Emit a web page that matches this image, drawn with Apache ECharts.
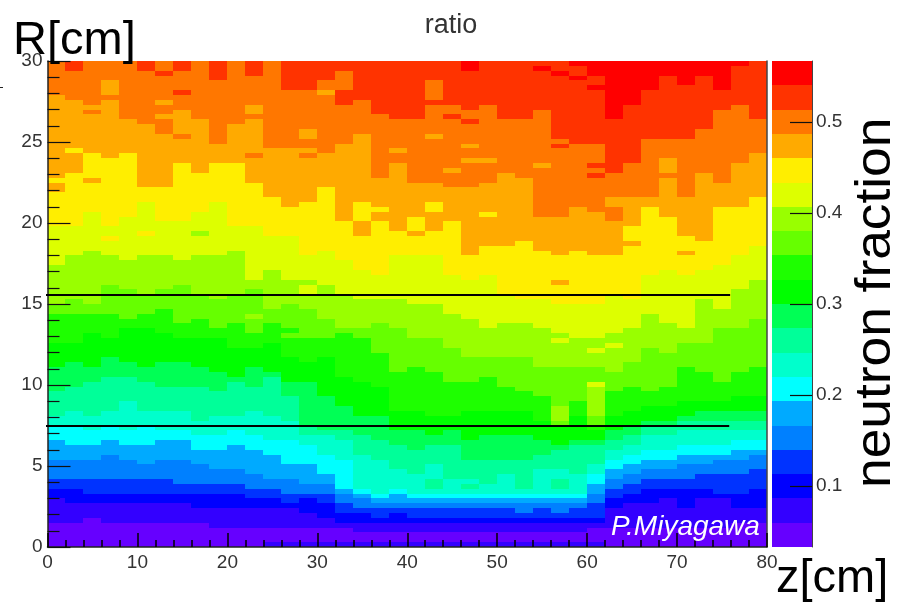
<!DOCTYPE html>
<html><head><meta charset="utf-8">
<style>html,body{margin:0;padding:0;background:#fff}#c{width:900px;height:607px}</style>
<script src="https://cdn.jsdelivr.net/npm/echarts@6/dist/echarts.min.js"></script>
</head><body><div id="c"></div>
<script>
// Colour bands, low to high
var bandColors = ['#6600ff','#3300ff','#0000ff','#0033ff','#0080ff','#00aaff','#00ffff','#00ffcc','#00ff99','#00ff55',
                  '#00ff00','#1eff00','#66ff00','#99ff00','#ddff00','#ffee00','#ffaa00','#ff7700','#ff3300','#ff0000'];
var cbMin = 0.0333, cbMax = 0.5667;
var cbTicks = [0.1,0.2,0.3,0.4,0.5];
var zBinWidth = 2, rBinWidth = 0.3, nCols = 40, nRows = 100;

// For each band k: the R-bin index, per z column, at which the fraction reaches that band
var b1  = [5,5,6,5,5,5,5,5,5,4,4,4,4,4, 4,4,4,3,3,3,3,3,3,3,3,3,3,3,3,3,4, 4,4,4,4,4,4,4,5,5];
var b2  = [10,9,9,9,9,9,9,9,8,8,8,8,8,8, 7,6,5,5,5,5,5,5,5,5,5,5,5,5,5,5,5, 8,9,9,10,8,10,10,8,8];
var b3  = [12,12,11,11,11,11,11,11,11,11,11,10,10,9, 10,9,7,7,6,7,6,6,6,6,6,6,6,6,6,6,6, 10,11,12,12,12,12,11,11,12];
var b4  = [14,14,14,14,14,14,14,13,13,13,13,12,12,11, 11,11,9,8,8,8,8,8,8,8,8,8,7,8,7,8,9, 12,13,14,14,14,15,15,15,16];
var b5  = [18,18,18,19,18,17,18,18,17,16,16,15,14,14, 13,13,11,10,9,9,9,9,9,9,9,9,9,9,9,9,11, 14,15,16,16,17,17,18,18,19];
var b6  = [22,21,21,22,21,21,22,22,20,20,21,20,19,17, 17,15,12,11,10,11,10,10,10,10,10,10,10,10,10,10,13, 16,17,18,18,19,19,19,20,20];
var b7  = [25,25,24,25,24,25,24,24,23,23,24,23,22,22, 21,19,18,12,11,12,11,11,11,11,11,11,11,11,11,11,15, 18,19,20,20,21,21,21,22,22];
var b8  = [27,28,27,28,30,28,28,28,26,27,27,28,27,26, 23,23,22,19,18,16,15,17,14,14,13,15,12,16,16,15,17, 20,21,23,23,24,24,24,24,24];
var b9  = [32,33,34,35,35,34,33,33,33,32,34,33,35,31, 25,24,24,23,22,21,20,21,21,18,18,18,18,19,20,21,21, 22,23,25,25,26,26,26,26,26];
var b10 = [37,38,37,39,38,37,38,38,37,36,35,37,36,34, 34,31,29,27,27,24,24,23,24,22,23,23,23,22,21,22,22, 24,25,26,26,27,28,28,28,28];
var b11 = [42,42,44,43,45,45,44,43,43,43,41,41,42,39, 38,39,35,34,33,28,28,27,27,28,28,28,28,26,25,27,24, 27,28,29,29,30,30,30,31,31];
var b12 = [48,48,48,48,47,48,49,46,47,45,46,44,46,45, 43,43,44,43,40,36,37,36,34,34,35,33,32,31,25,30,25, 32,33,32,33,37,36,34,36,37];
var b13 = [50,51,50,54,53,52,53,54,52,51,52,53,49,50, 49,47,45,45,46,45,43,43,41,39,39,39,39,37,37,37,37, 36,38,41,40,42,42,45,45,47];
var b14 = [58,60,61,60,59,60,60,59,60,60,60,55,57,55, 55,54,52,51,51,51,50,50,48,47,45,46,46,45,44,43,43, 44,45,48,46,45,51,49,53,55];
var b15 = [66,66,69,66,68,71,67,67,69,71,66,66,64,64, 60,61,59,57,56,60,60,60,56,55,56,52,51,51,50,50,50, 52,51,56,57,56,57,58,60,62];
var b16 = [76,77,81,80,81,74,74,79,77,79,79,75,72,70, 71,74,67,71,67,65,64,65,67,60,62,62,63,61,60,61,60, 60,66,70,68,64,65,70,70,72];
var b17 = [93,92,91,92,88,87,85,90,88,83,87,88,82,82, 80,81,83,85,76,79,75,75,74,74,75,77,76,68,68,70,69, 72,72,72,76,72,77,75,79,81];
var b18 = [100,98,100,100,100,98,100,98,100,96,100,97,100,94, 94,96,91,92,89,88,88,91,88,90,91,88,88,90,84,83,83, 77,79,84,84,84,86,90,91,88];
var b19 = [100,100,100,100,100,100,100,100,100,100,100,100,100,100, 100,100,100,100,100,100,100,100,100,98,100,100,100,100,100,100,97, 88,91,94,97,95,97,94,99,100];
var bandStarts = [b1,b2,b3,b4,b5,b6,b7,b8,b9,b10,b11,b12,b13,b14,b15,b16,b17,b18,b19];

// Isolated bins that differ from their neighbours: [column, firstRow, lastRow, band]
var specks = [
 [0,73,74,16],[2,75,75,16],[1,81,81,15],[2,89,89,17],[3,93,95,16],[6,91,91,16],[6,88,88,16],[6,97,97,18],[7,93,93,18],[7,84,84,17],
 [11,89,90,16],[11,80,80,17],[8,64,64,13],[5,64,64,15],[3,63,63,15],[10,60,60,13],[13,43,43,12],[11,47,47,13],
 [14,84,85,16],[14,81,81,16],[15,93,93,16],[16,94,97,17],[21,93,95,17],[21,92,92,17],[21,84,84,16],[22,89,90,17],[19,81,81,16],
 [23,87,87,18],[23,82,82,16],[23,79,79,16],[24,79,79,16],[22,77,77,16],[27,78,78,16],[28,82,82,18],[30,78,78,18],[30,76,76,18],
 [27,98,98,19],[28,97,97,19],[29,99,99,19],[29,96,96,19],[30,94,94,19],
 [18,69,69,15],[21,69,70,15],[24,68,68,15],[20,65,67,15],[17,64,66,16],[32,62,62,16],[34,77,79,16],[31,67,69,17],[34,67,67,15],
 [36,63,64,16],[28,54,54,16],[35,60,60,16],[14,52,53,14],[28,26,28,13],[30,27,33,13],[30,33,33,14],[28,42,42,14],[30,40,40,14],[31,41,41,14],
 [21,12,13,8],[23,12,12,8],[28,12,13,8],
 [12,0,0,1],[13,0,0,1],[14,0,0,1],[15,0,0,1],[16,0,0,1],[17,0,0,1],[18,0,0,1],[19,0,0,1],[20,0,0,1],[21,0,0,1],
 [22,0,0,1],[23,0,0,1],[24,0,0,1],[25,0,0,1],[26,0,0,1],[27,0,0,1],[28,0,0,1],[29,0,0,1],[30,0,0,1]
];

// Detector lines
var lineUpperR = 15.56, lineLowerR = 7.47;
var lineUpperZ = [-2.94, 75.9], lineLowerZ = [-3.05, 75.8];

// Build bin table: [z left edge, R low edge, band]
var cells = [];
for (var c = 0; c < nCols; c++) {
  for (var r = 0; r < nRows; r++) {
    var band = 0;
    for (var k = 0; k < bandStarts.length; k++) if (bandStarts[k][c] <= r) band = k + 1;
    for (var s = 0; s < specks.length; s++)
      if (specks[s][0] === c && r >= specks[s][1] && r <= specks[s][2]) band = specks[s][3];
    cells.push([c * zBinWidth, r * rBinWidth, band]);
  }
}
var bandData = bandColors.map(function (col, i) {
  var w = (cbMax - cbMin) / bandColors.length;
  return [0, cbMin + i * w, cbMin + (i + 1) * w, i];
});

var chart = echarts.init(document.getElementById('c'), null, {renderer: 'canvas', width: 900, height: 607});
var F = '"Liberation Sans", Arial, sans-serif';
chart.setOption({
  animation: false,
  backgroundColor: '#fff',
  title: {text: 'ratio', left: 446, top: 7, textAlign: 'center',
    textStyle: {fontFamily: F, fontSize: 27, fontWeight: 'normal', color: '#333'}},
  grid: [
    {left: 47.5, top: 61, width: 719.5, height: 486, containLabel: false},
    {left: 772, top: 61, width: 40, height: 486}
  ],
  xAxis: [
    {gridIndex: 0, type: 'value', min: 0, max: 80, interval: 10, z: 10,
     axisLine: {show: true, onZero: false, lineStyle: {color: '#222', width: 1.5}},
     axisTick: {show: true, inside: true, length: 14, lineStyle: {color: '#000', width: 1.5}},
     minorTick: {show: true, splitNumber: 5, length: 7, lineStyle: {color: '#000', width: 1.5}},
     axisLabel: {show: true, margin: 6, fontFamily: F, fontSize: 19, color: '#333', showMinLabel: true, showMaxLabel: true},
     splitLine: {show: false}},
    {gridIndex: 1, type: 'value', min: 0, max: 1, show: false}
  ],
  yAxis: [
    {gridIndex: 0, type: 'value', min: 0, max: 30, interval: 5, z: 10,
     axisLine: {show: true, onZero: false, lineStyle: {color: '#222', width: 1.5}},
     axisTick: {show: true, inside: true, length: 23, lineStyle: {color: '#111', width: 1.2}},
     minorTick: {show: true, splitNumber: 5, length: 12, lineStyle: {color: '#111', width: 1.2}},
     axisLabel: {show: true, margin: 5, fontFamily: F, fontSize: 19, color: '#333', padding: [6,0,0,0], showMinLabel: true, showMaxLabel: true},
     splitLine: {show: false}},
    {gridIndex: 0, type: 'value', min: 0, max: 30, position: 'right', z: 10,
     axisLine: {show: true, onZero: false, lineStyle: {color: '#444', width: 1.5}},
     axisTick: {show: false}, axisLabel: {show: false}, splitLine: {show: false}},
    {gridIndex: 1, type: 'value', min: cbMin, max: cbMax, position: 'right', z: 10,
     axisLine: {show: true, onZero: false, lineStyle: {color: '#444', width: 1}},
     axisTick: {show: true, inside: true, length: 22, customValues: cbTicks, lineStyle: {color: '#111', width: 1.2}},
     axisLabel: {show: true, margin: 4, fontFamily: F, fontSize: 19, color: '#333', padding: [6,0,0,0], customValues: cbTicks,
       formatter: function (v) { return (+v).toFixed(1); }},
     splitLine: {show: false}}
  ],
  series: [
    {type: 'custom', xAxisIndex: 0, yAxisIndex: 0, data: cells, z: 1, silent: true,
     encode: {x: 0, y: 1},
     renderItem: function (params, api) {
       var p0 = api.coord([api.value(0), api.value(1)]);
       var p1 = api.coord([api.value(0) + zBinWidth, api.value(1) + rBinWidth]);
       var x0 = Math.round(p0[0]), x1 = Math.round(p1[0]), y0 = Math.round(p0[1]), y1 = Math.round(p1[1]);
       return {type: 'rect', shape: {x: x0, y: y1, width: x1 - x0, height: y0 - y1},
         style: {fill: bandColors[api.value(2)]}};
     }},
    {type: 'custom', xAxisIndex: 1, yAxisIndex: 2, data: bandData, z: 1, silent: true,
     encode: {x: 0, y: 1},
     renderItem: function (params, api) {
       var p0 = api.coord([0, api.value(1)]);
       var p1 = api.coord([1, api.value(2)]);
       var y0 = Math.round(p0[1]), y1 = Math.round(p1[1]);
       return {type: 'rect', shape: {x: p0[0], y: y1, width: p1[0] - p0[0], height: y0 - y1},
         style: {fill: bandColors[api.value(3)]}};
     }},
    {type: 'line', xAxisIndex: 0, yAxisIndex: 0, clip: false, symbol: 'none', z: 20, silent: true,
     lineStyle: {color: '#000', width: 2},
     data: [[lineUpperZ[0], lineUpperR], [lineUpperZ[1], lineUpperR]]},
    {type: 'line', xAxisIndex: 0, yAxisIndex: 0, clip: false, symbol: 'none', z: 20, silent: true,
     lineStyle: {color: '#000', width: 2},
     data: [[lineLowerZ[0], lineLowerR], [lineLowerZ[1], lineLowerR]]}
  ],
  graphic: [
    {type: 'text', z: 100, left: 13, top: 18, style: {text: 'R[cm]', font: '47px ' + F, fill: '#000'}},
    {type: 'text', z: 100, left: 776, top: 556, style: {text: 'z[cm]', font: '47px ' + F, fill: '#000'}},
    {type: 'text', z: 100, x: 851, y: 488, rotation: Math.PI / 2, scaleX: 1.066, style: {text: 'neutron fraction', font: '50px ' + F, fill: '#000', textVerticalAlign: 'top', textAlign: 'left'}},
    {type: 'text', z: 100, left: 611, top: 513, style: {text: 'P.Miyagawa', font: 'italic 28px ' + F, fill: '#fff'}},
    {type: 'line', z: 100, shape: {x1: 0, y1: 87.5, x2: 3, y2: 87.5}, style: {stroke: '#222', lineWidth: 1}}
  ]
});
</script></body></html>
